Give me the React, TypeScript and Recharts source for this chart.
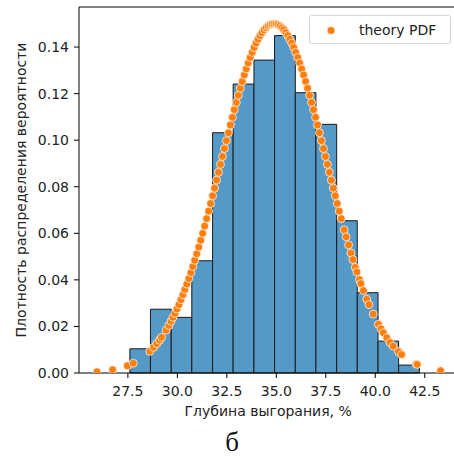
import { ComposedChart, Scatter, XAxis, YAxis, ReferenceArea, ReferenceLine } from 'recharts'

// histogram bins (density)
const binEdges = [27.6, 28.64, 29.69, 30.73, 31.78, 32.82, 33.87, 34.91, 35.96, 37.0, 38.05, 39.09, 40.14, 41.18, 42.23]
const binHeights = [0.0104, 0.0274, 0.0239, 0.0482, 0.1032, 0.1241, 0.1344, 0.1449, 0.1204, 0.1068, 0.0654, 0.0345, 0.0137, 0.0034]

// theory PDF points
const pdfX = [
  25.94, 26.73, 27.48, 27.77, 28.61, 28.8, 28.96, 29.1, 29.2, 29.43, 29.57,
  29.68, 29.78, 29.88, 29.98, 30.08, 30.18, 30.28, 30.38, 30.48, 30.58,
  30.68, 30.78, 30.88, 30.98, 31.08, 31.18, 31.28, 31.38, 31.48, 31.58,
  31.68, 31.78, 31.88, 31.98, 32.08, 32.18, 32.28, 32.38, 32.48, 32.58,
  32.68, 32.78, 32.88, 32.98, 33.08, 33.18, 33.28, 33.38, 33.48, 33.58,
  33.68, 33.78, 33.88, 33.98, 34.08, 34.18, 34.28, 34.38, 34.48, 34.58,
  34.68, 34.78, 34.88, 34.98, 35.08, 35.18, 35.28, 35.38, 35.48, 35.58,
  35.68, 35.78, 35.88, 35.98, 36.08, 36.18, 36.28, 36.38, 36.48, 36.58,
  36.68, 36.78, 36.88, 36.98, 37.08, 37.18, 37.28, 37.38, 37.48, 37.58,
  37.68, 37.78, 37.88, 37.98, 38.08, 38.18, 38.28,
  38.43, 38.53, 38.65, 38.77, 38.87, 38.99, 39.07, 39.2, 39.27, 39.4, 39.57, 39.68, 39.9,
  40.16, 40.29, 40.41, 40.58, 40.75, 40.91, 41.17, 41.33, 42.06, 42.12, 43.3,
]
const pdfY = [
  0.0005, 0.0014, 0.0031, 0.0042, 0.0093, 0.011, 0.0126, 0.0141, 0.0153, 0.0184, 0.0204,
  0.0222, 0.0239, 0.0256, 0.0275, 0.0294, 0.0315, 0.0336, 0.0359, 0.0382, 0.0406,
  0.0431, 0.0457, 0.0484, 0.0512, 0.0541, 0.057, 0.06, 0.0631, 0.0663, 0.0695,
  0.0728, 0.0761, 0.0794, 0.0828, 0.0862, 0.0896, 0.093, 0.0964, 0.0998, 0.1032,
  0.1065, 0.1098, 0.1131, 0.1162, 0.1193, 0.1223, 0.1252, 0.128, 0.1306, 0.1331,
  0.1355, 0.1377, 0.1398, 0.1417, 0.1434, 0.1449, 0.1462, 0.1474, 0.1483, 0.149,
  0.1496, 0.1499, 0.15, 0.1499, 0.1496, 0.149, 0.1483, 0.1474, 0.1462, 0.1449,
  0.1434, 0.1417, 0.1398, 0.1377, 0.1355, 0.1331, 0.1306, 0.128, 0.1252, 0.1223,
  0.1193, 0.1162, 0.1131, 0.1098, 0.1065, 0.1032, 0.0998, 0.0964, 0.093, 0.0896,
  0.0862, 0.0828, 0.0794, 0.0761, 0.0728, 0.0695, 0.0663,
  0.0615, 0.0585, 0.055, 0.0515, 0.0487, 0.0454, 0.0434, 0.0401, 0.0384, 0.0354, 0.0317, 0.0294, 0.0253,
  0.0209, 0.019, 0.0173, 0.0151, 0.0131, 0.0115, 0.0092, 0.0079, 0.0039, 0.0037, 0.001,
]

const xTicks = [27.5, 30.0, 32.5, 35.0, 37.5, 40.0, 42.5]
const yTicks = [0, 0.02, 0.04, 0.06, 0.08, 0.1, 0.12, 0.14]

const pdfData = pdfX.map((x, i) => ({ x, y: pdfY[i] }))

const FONT = 'DejaVu Sans, sans-serif'
const ORANGE = '#ff7f0e'
const BAR = '#5599c7'
const Y_MAX = 0.1572

const Dot = (props: any) => (
  <circle cx={props.cx} cy={props.cy} r={4} fill={ORANGE} stroke="#fff" strokeWidth={0.7} />
)

export default function App() {
  return (
    <div style={{ position: 'absolute', left: 0, top: 0, width: 454, height: 457, overflow: 'hidden', background: '#fff' }}>
      <ComposedChart width={460} height={457} margin={{ top: 7, right: 2.6, left: 0, bottom: 0 }}>
        <XAxis
          type="number"
          dataKey="x"
          domain={[25.03, 44.15]}
          ticks={xTicks}
          tickFormatter={(v) => v.toFixed(1)}
          allowDataOverflow
          height={84}
          stroke="#000"
          tickSize={5}
          tickMargin={8}
          tick={{ fill: '#222', fontSize: 14, fontFamily: FONT }}
          label={(p: any) => (
            <text x={p.viewBox.x + p.viewBox.width / 2} y={p.viewBox.y + 43} textAnchor="middle" fill="#222" fontSize={14} fontFamily={FONT}>
              Глубина выгорания, %
            </text>
          )}
        />
        <YAxis
          type="number"
          dataKey="y"
          domain={[0, Y_MAX]}
          ticks={yTicks}
          tickFormatter={(v) => v.toFixed(2)}
          allowDataOverflow
          width={79}
          stroke="#000"
          tickSize={5}
          tickMargin={5}
          tick={{ fill: '#222', fontSize: 14, fontFamily: FONT }}
          label={(p: any) => (
            <text x={21} y={p.viewBox.y + p.viewBox.height / 2} transform={`rotate(-90 21 ${p.viewBox.y + p.viewBox.height / 2})`} textAnchor="middle" dominantBaseline="central" fill="#222" fontSize={14} fontFamily={FONT}>
              Плотность распределения вероятности
            </text>
          )}
        />
        {binHeights.map((h, i) => (
          <ReferenceArea
            key={i}
            x1={binEdges[i]}
            x2={binEdges[i + 1]}
            y1={0}
            y2={h}
            fill={BAR}
            fillOpacity={1}
            stroke="#1a1a1a"
            strokeWidth={1}
            strokeOpacity={1}
          />
        ))}
        <ReferenceLine y={Y_MAX} stroke="#000" strokeWidth={1} />
        <Scatter name="theory PDF" data={pdfData} fill={ORANGE} shape={Dot} isAnimationActive={false} />
      </ComposedChart>
      <div
        style={{
          position: 'absolute', left: 309, top: 15, width: 140, height: 27,
          border: '1px solid #d6d6d6', borderRadius: 3, background: 'rgba(255,255,255,0.8)',
          fontFamily: FONT, fontSize: 14, color: '#222', display: 'flex', alignItems: 'center',
        }}
      >
        <svg width={40} height={27} style={{ display: 'block' }}>
          <circle cx={21} cy={14.5} r={4} fill={ORANGE} stroke="#fff" strokeWidth={0.7} />
        </svg>
        <span style={{ marginLeft: 9 }}>theory PDF</span>
      </div>
      <div
        style={{
          position: 'absolute', left: 182, width: 100, top: 427, textAlign: 'center',
          fontFamily: 'Liberation Serif, serif', fontSize: 27, color: '#111',
        }}
      >
        б
      </div>
    </div>
  )
}
